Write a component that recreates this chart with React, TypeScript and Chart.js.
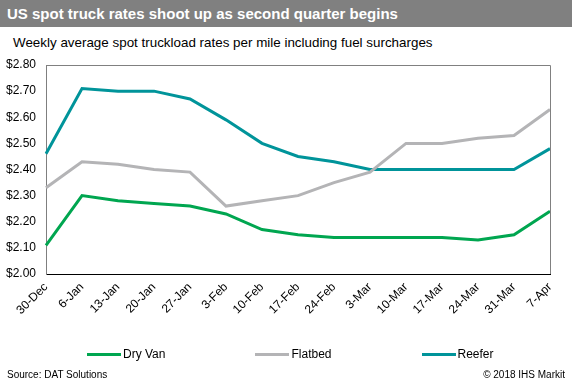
import React, { useEffect, useRef } from "react";
import { Chart, registerables } from "chart.js";

Chart.register(...registerables);

const categories = ["30-Dec", "6-Jan", "13-Jan", "20-Jan", "27-Jan", "3-Feb", "10-Feb", "17-Feb", "24-Feb", "3-Mar", "10-Mar", "17-Mar", "24-Mar", "31-Mar", "7-Apr"];
const dryVan = [2.11, 2.30, 2.28, 2.27, 2.26, 2.23, 2.17, 2.15, 2.14, 2.14, 2.14, 2.14, 2.13, 2.15, 2.24];
const flatbed = [2.33, 2.43, 2.42, 2.40, 2.39, 2.26, 2.28, 2.30, 2.35, 2.39, 2.50, 2.50, 2.52, 2.53, 2.63];
const reefer = [2.46, 2.71, 2.70, 2.70, 2.67, 2.59, 2.50, 2.45, 2.43, 2.40, 2.40, 2.40, 2.40, 2.40, 2.48];
const seriesNames = ["Dry Van", "Flatbed", "Reefer"];
const seriesColors = ["#00a650", "#b4b4b6", "#00949a"];
const yMin = 2.0;
const yMax = 2.8;
const yStep = 0.1;

const FONT = "Arial, 'Liberation Sans', sans-serif";

const frameBorder = {
  id: "frameBorder",
  afterDraw(chart: any) {
    const { ctx, chartArea } = chart;
    ctx.save();
    ctx.strokeStyle = "#808080";
    ctx.lineWidth = 1;
    ctx.beginPath();
    ctx.moveTo(chartArea.left, Math.round(chartArea.top) + 0.5);
    ctx.lineTo(Math.round(chartArea.right) + 0.5, Math.round(chartArea.top) + 0.5);
    ctx.lineTo(Math.round(chartArea.right) + 0.5, chartArea.bottom);
    ctx.stroke();
    ctx.restore();
  },
};

export default function App() {
  const ref = useRef<HTMLCanvasElement>(null);

  useEffect(() => {
    if (!ref.current) return;
    const data = [dryVan, flatbed, reefer];
    const chart = new Chart(ref.current, {
      type: "line",
      data: {
        labels: categories,
        datasets: seriesNames.map((name, i) => ({
          label: name,
          data: data[i],
          borderColor: seriesColors[i],
          backgroundColor: seriesColors[i],
          borderWidth: 3,
          pointRadius: 0,
          tension: 0,
          fill: false,
        })),
      },
      options: {
        responsive: false,
        animation: false,
        layout: { padding: { top: 65, right: 22, left: 0, bottom: 0 } },
        plugins: {
          legend: { display: false },
          tooltip: { enabled: false },
          title: { display: false },
        },
        scales: {
          x: {
            offset: false,
            grid: { display: false, drawTicks: false },
            border: { display: true, color: "#000000", width: 1 },
            ticks: {
              autoSkip: false,
              maxRotation: 45,
              minRotation: 45,
              padding: 6,
              color: "#000000",
              font: { family: FONT, size: 12 },
            },
            afterFit: (scale: any) => {
              scale.height = 116;
            },
          },
          y: {
            min: yMin,
            max: yMax,
            grid: { display: false, drawTicks: false },
            border: { display: true, color: "#7f7f7f", width: 1 },
            ticks: {
              stepSize: yStep,
              padding: 10,
              color: "#000000",
              font: { family: FONT, size: 12 },
              callback: (v: any) => "$" + Number(v).toFixed(2),
            },
            afterFit: (scale: any) => {
              scale.width = 46;
            },
          },
        },
      },
      plugins: [frameBorder],
    });
    return () => chart.destroy();
  }, []);

  return (
    <div style={{ position: "fixed", left: 0, top: 0, width: 572, height: 390, background: "#fff", overflow: "hidden", fontFamily: FONT }}>
      <div style={{ position: "absolute", left: 0, top: 0, width: 572, height: 27, background: "#808080", color: "#fff", fontWeight: "bold", fontSize: 15, lineHeight: "27px", paddingLeft: 7, boxSizing: "border-box", whiteSpace: "nowrap" }}>
        US spot truck rates shoot up as second quarter begins
      </div>
      <div style={{ position: "absolute", left: 13, top: 35, fontSize: 13.4, lineHeight: "16px", color: "#000", whiteSpace: "nowrap" }}>
        Weekly average spot truckload rates per mile including fuel surcharges
      </div>
      <canvas ref={ref} width={572} height={390} style={{ position: "absolute", left: 0, top: 0, width: 572, height: 390 }} />
      <div style={{ position: "absolute", left: 87, top: 346, display: "flex", gap: 90, alignItems: "center", fontSize: 12, lineHeight: "16px", color: "#000", whiteSpace: "nowrap" }}>
        {seriesNames.map((n, i) => (
          <div key={n} style={{ display: "flex", alignItems: "center" }}>
            <span style={{ display: "inline-block", width: 34, height: 3, background: seriesColors[i], marginRight: 2 }} />
            <span>{n}</span>
          </div>
        ))}
      </div>
      <div style={{ position: "absolute", left: 7, top: 368, fontSize: 10, lineHeight: "14px", color: "#000", whiteSpace: "nowrap" }}>
        Source: DAT Solutions
      </div>
      <div style={{ position: "absolute", right: 7, top: 368, fontSize: 10, lineHeight: "14px", color: "#000", whiteSpace: "nowrap" }}>
        © 2018 IHS Markit
      </div>
    </div>
  );
}
